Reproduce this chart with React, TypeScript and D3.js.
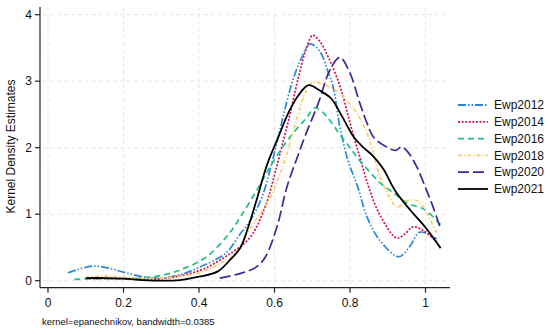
import React, { useEffect, useRef } from 'react';
import * as d3 from 'd3';

// values (x = Ewp, y = density)
const ewp2012 = [[0.053,0.12],[0.08,0.17],[0.12,0.22],[0.16,0.19],[0.2,0.13],[0.25,0.06],[0.3,0.04],[0.35,0.09],[0.4,0.2],[0.47,0.41],[0.51,0.71],[0.535,0.9],[0.567,1.26],[0.593,1.77],[0.615,2.28],[0.633,2.7],[0.65,3.04],[0.67,3.33],[0.694,3.56],[0.72,3.45],[0.74,3.17],[0.755,2.92],[0.773,2.32],[0.795,1.8],[0.82,1.42],[0.845,0.96],[0.88,0.6],[0.93,0.36],[0.96,0.53],[0.985,0.73],[1.03,0.63]];
const ewp2014 = [[0.1,0.03],[0.2,0.03],[0.3,0.03],[0.4,0.15],[0.47,0.36],[0.535,0.65],[0.575,1.11],[0.606,1.72],[0.62,2.03],[0.641,2.5],[0.663,3.05],[0.685,3.5],[0.701,3.69],[0.72,3.6],[0.745,3.33],[0.775,2.9],[0.8,2.37],[0.826,1.86],[0.85,1.4],[0.88,0.98],[0.924,0.64],[0.945,0.7],[0.967,0.81],[0.993,0.76],[1.03,0.58]];
const ewp2016 = [[0.07,0.02],[0.12,0.03],[0.2,0.03],[0.25,0.04],[0.3,0.08],[0.35,0.16],[0.42,0.36],[0.48,0.71],[0.51,0.96],[0.553,1.36],[0.588,1.71],[0.623,2.02],[0.654,2.25],[0.685,2.45],[0.707,2.6],[0.73,2.52],[0.747,2.41],[0.773,2.2],[0.8,2.0],[0.818,1.86],[0.85,1.65],[0.88,1.47],[0.92,1.3],[0.95,1.17],[1.0,1.06],[1.046,0.8]];
const ewp2018 = [[0.1,0.05],[0.15,0.07],[0.2,0.05],[0.3,0.04],[0.4,0.12],[0.45,0.24],[0.5,0.42],[0.527,0.71],[0.555,0.95],[0.58,1.15],[0.615,1.61],[0.64,2.05],[0.66,2.45],[0.68,2.8],[0.7,2.98],[0.73,2.95],[0.765,2.85],[0.79,2.72],[0.818,2.52],[0.845,2.22],[0.86,1.96],[0.88,1.56],[0.905,1.25],[0.925,1.1],[0.95,1.2],[0.98,1.2],[1.0,1.05],[1.03,0.72]];
const ewp2020 = [[0.455,0.04],[0.51,0.11],[0.55,0.2],[0.575,0.35],[0.606,0.8],[0.633,1.41],[0.66,1.85],[0.68,2.16],[0.716,2.67],[0.747,3.17],[0.773,3.36],[0.8,3.12],[0.826,2.67],[0.845,2.37],[0.862,2.16],[0.897,2.01],[0.92,1.96],[0.937,2.01],[0.954,1.93],[0.977,1.71],[1.0,1.4],[1.02,1.11],[1.04,0.78]];
const ewp2021 = [[0.1,0.04],[0.15,0.04],[0.2,0.03],[0.25,0.01],[0.3,0.0],[0.35,0.01],[0.4,0.06],[0.45,0.14],[0.48,0.3],[0.51,0.5],[0.53,0.8],[0.555,1.26],[0.58,1.74],[0.61,2.16],[0.64,2.56],[0.665,2.8],[0.69,2.94],[0.72,2.86],[0.75,2.74],[0.78,2.46],[0.81,2.16],[0.836,2.0],[0.86,1.88],[0.887,1.69],[0.92,1.35],[0.96,1.06],[1.0,0.8],[1.04,0.49]];

const seriesNames = ['Ewp2012','Ewp2014','Ewp2016','Ewp2018','Ewp2020','Ewp2021'];
const seriesData = [ewp2012, ewp2014, ewp2016, ewp2018, ewp2020, ewp2021];
const colors = ['#2a86dc','#d8104f','#1fbf82','#f9cb6a','#3c2a92','#000000'];
const dashes = ['8,2,1.5,2,1.5,2','2,1.6','6,4','4,2,1.2,2','11,4',''];
const xTicks = [0,0.2,0.4,0.6,0.8,1];
const yTicks = [0,1,2,3,4];

export default function App() {
  const ref = useRef<SVGSVGElement>(null);

  useEffect(() => {
    const svg = d3.select(ref.current);
    svg.selectAll('*').remove();
    const font = 'Liberation Sans, Arial, sans-serif';

    const x = d3.scaleLinear().domain([0, 1]).range([48, 425.5]);
    const y = d3.scaleLinear().domain([0, 4]).range([280.7, 14.7]);
    const left = 40, right = 450, top = 7, bottom = 287.7;

    const grid = svg.append('g').attr('stroke', '#e6e6e6').attr('stroke-dasharray', '4,3');
    grid.selectAll('.h').data(yTicks).join('line')
      .attr('x1', left + 3).attr('x2', right).attr('y1', d => y(d)).attr('y2', d => y(d));
    grid.selectAll('.v').data(xTicks).join('line')
      .attr('x1', d => x(d)).attr('x2', d => x(d)).attr('y1', top).attr('y2', bottom - 2);

    const line = d3.line<number[]>().x(d => x(d[0])).y(d => y(d[1])).curve(d3.curveCatmullRom.alpha(0.5));
    svg.append('g').selectAll('path').data(seriesData).join('path')
      .attr('d', d => line(d))
      .attr('fill', 'none')
      .attr('stroke', (d, i) => colors[i])
      .attr('stroke-width', (d, i) => i === 5 ? 1.8 : 1.7)
      .attr('stroke-dasharray', (d, i) => dashes[i]);

    // axes
    const ax = svg.append('g').attr('stroke', '#222').attr('stroke-width', 1.2);
    ax.append('line').attr('x1', left).attr('x2', left).attr('y1', top).attr('y2', bottom);
    ax.append('line').attr('x1', left).attr('x2', right).attr('y1', bottom).attr('y2', bottom);
    ax.selectAll('.yt').data(yTicks).join('line').attr('class', 'yt')
      .attr('x1', left - 5).attr('x2', left).attr('y1', d => y(d)).attr('y2', d => y(d));
    ax.selectAll('.xt').data(xTicks).join('line').attr('class', 'xt')
      .attr('x1', d => x(d)).attr('x2', d => x(d)).attr('y1', bottom).attr('y2', bottom + 5);

    svg.selectAll('.ylab').data(yTicks).join('text').attr('class', 'ylab')
      .attr('x', 32).attr('y', d => y(d)).attr('dy', '0.35em')
      .attr('text-anchor', 'end').attr('font-family', font).attr('font-size', 12).attr('fill', '#111')
      .text(d => d);
    svg.selectAll('.xlab').data(xTicks).join('text').attr('class', 'xlab')
      .attr('x', d => x(d)).attr('y', 307)
      .attr('text-anchor', 'middle').attr('font-family', font).attr('font-size', 12).attr('fill', '#111')
      .text(d => d);

    svg.append('text').attr('transform', 'translate(15,146.5) rotate(-90)')
      .attr('text-anchor', 'middle').attr('font-family', font).attr('font-size', 12).attr('fill', '#111')
      .text('Kernel Density Estimates');
    svg.append('text').attr('x', 42).attr('y', 324.5)
      .attr('font-family', font).attr('font-size', 9.5).attr('fill', '#111')
      .text('kernel=epanechnikov, bandwidth=0.0385');

    // legend
    const lg = svg.append('g').selectAll('g').data(seriesNames).join('g')
      .attr('transform', (d, i) => `translate(0,${105 + i * 16.8})`);
    lg.append('line').attr('x1', 458).attr('x2', 488).attr('y1', 0).attr('y2', 0)
      .attr('stroke', (d, i) => colors[i]).attr('stroke-width', 1.8)
      .attr('stroke-dasharray', (d, i) => dashes[i]);
    lg.append('text').attr('x', 494).attr('y', 0).attr('dy', '0.35em')
      .attr('font-family', font).attr('font-size', 12).attr('fill', '#111')
      .text(d => d);
  }, []);

  return (
    <svg ref={ref} width={550} height={335} style={{ position: 'absolute', left: 0, top: 0, background: '#fff' }} />
  );
}
